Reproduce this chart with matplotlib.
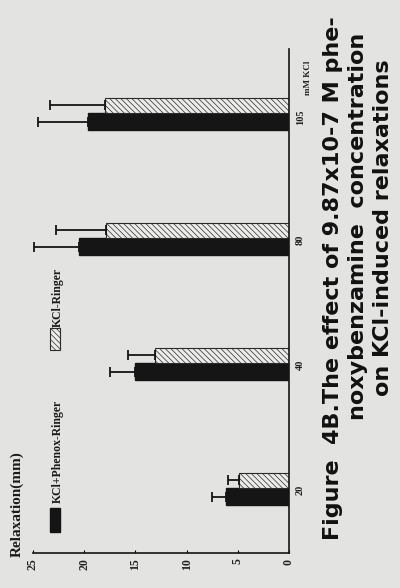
import matplotlib
matplotlib.use("Agg")
import matplotlib.pyplot as plt
import numpy as np
from matplotlib.patches import Rectangle

concentrations = ["20", "40", "80", "105"]
phenox_ringer = [6.2, 15.0, 20.5, 19.6]      # KCl+Phenox-Ringer (black)
phenox_err = [1.3, 2.5, 4.4, 4.9]
kcl_ringer = [4.9, 13.1, 17.9, 18.0]         # KCl-Ringer (hatched)
kcl_err = [1.1, 2.6, 4.9, 5.3]
value_ticks = [0, 5, 10, 15, 20, 25]

BG = "#e3e3e1"
INK = "#151515"
SERIF = "Liberation Serif"
HATCH = "\\\\\\\\\\\\"
plt.rcParams["hatch.linewidth"] = 0.5
plt.rcParams["hatch.color"] = "#555555"

fig = plt.figure(figsize=(4, 5.88), dpi=100, facecolor=BG)
ax = fig.add_axes([0.0825, 0.0595, 0.64, 0.857])
ax.set_facecolor(BG)

pos = np.arange(len(concentrations))
zeros = np.zeros(len(concentrations))

ax.barh(pos - 0.068, phenox_ringer, height=0.14, color=INK, edgecolor=INK,
        xerr=[zeros, phenox_err],
        error_kw=dict(ecolor=INK, elinewidth=1.3, capsize=3.5, capthick=1.3))
ax.barh(pos + 0.062, kcl_ringer, height=0.12, color="#ececea", edgecolor="#2a2a2a",
        hatch=HATCH, linewidth=0.8,
        xerr=[zeros, kcl_err],
        error_kw=dict(ecolor=INK, elinewidth=1.3, capsize=3.5, capthick=1.3))

ax.set_xlim(25, 0)
ax.set_ylim(-0.52, 3.512)

for s in ["left", "top"]:
    ax.spines[s].set_visible(False)
for s in ["right", "bottom"]:
    ax.spines[s].set_linewidth(1.2)
    ax.spines[s].set_color(INK)

ax.set_xticks(value_ticks)
ax.set_xticklabels([str(v) for v in value_ticks], rotation=90, fontsize=8.5,
                   family=SERIF, weight="bold", color="#222222")
ax.tick_params(axis="x", length=2, direction="in", pad=4)

ax.yaxis.tick_right()
ax.set_yticks(pos)
ax.set_yticklabels(concentrations, rotation=90, fontsize=7.5, family=SERIF,
                   weight="bold", color="#222222")
ax.tick_params(axis="y", length=0, pad=5)

# unit of the category axis
fig.text(308 / 400, 1 - 95 / 588, "mM KCl", rotation=90, rotation_mode="anchor",
         ha="left", va="center", fontsize=6.5, family=SERIF, weight="bold", color="#222222")

# value axis title
fig.text(17 / 400, 1 - 557 / 588, "Relaxation(mm)", rotation=90, rotation_mode="anchor",
         ha="left", va="center", fontsize=11, family=SERIF, weight="bold", color="#1a1a1a")

# legend, drawn by hand because it is rotated
fig.add_artist(Rectangle((50 / 400, 1 - 532 / 588), 10 / 400, 24 / 588,
                         transform=fig.transFigure, facecolor=INK, edgecolor=INK))
fig.text(58 / 400, 1 - 503 / 588, "KCl+Phenox-Ringer", rotation=90, rotation_mode="anchor",
         ha="left", va="center", fontsize=8.5, family=SERIF, weight="bold", color="#1a1a1a")
fig.add_artist(Rectangle((50 / 400, 1 - 350 / 588), 10 / 400, 22 / 588,
                         transform=fig.transFigure, facecolor="#ececea", edgecolor="#2a2a2a",
                         hatch=HATCH, linewidth=0.8))
fig.text(58 / 400, 1 - 327 / 588, "KCl-Ringer", rotation=90, rotation_mode="anchor",
         ha="left", va="center", fontsize=8.5, family=SERIF, weight="bold", color="#1a1a1a")

# caption
cap_kw = dict(rotation=90, rotation_mode="anchor", va="baseline", fontsize=16,
              family="DejaVu Sans", weight="bold", color="#111111")
fig.text(339 / 400, 1 - 540 / 588, "Figure  4B.The effect of 9.87x10-7 M phe-",
         ha="left", **cap_kw)
fig.text(364 / 400, 1 - 226 / 588, "noxybenzamine  concentration", ha="center", **cap_kw)
fig.text(389 / 400, 1 - 228 / 588, "on KCl-induced relaxations", ha="center", **cap_kw)

fig.savefig("out.png", dpi=100, facecolor=BG)
